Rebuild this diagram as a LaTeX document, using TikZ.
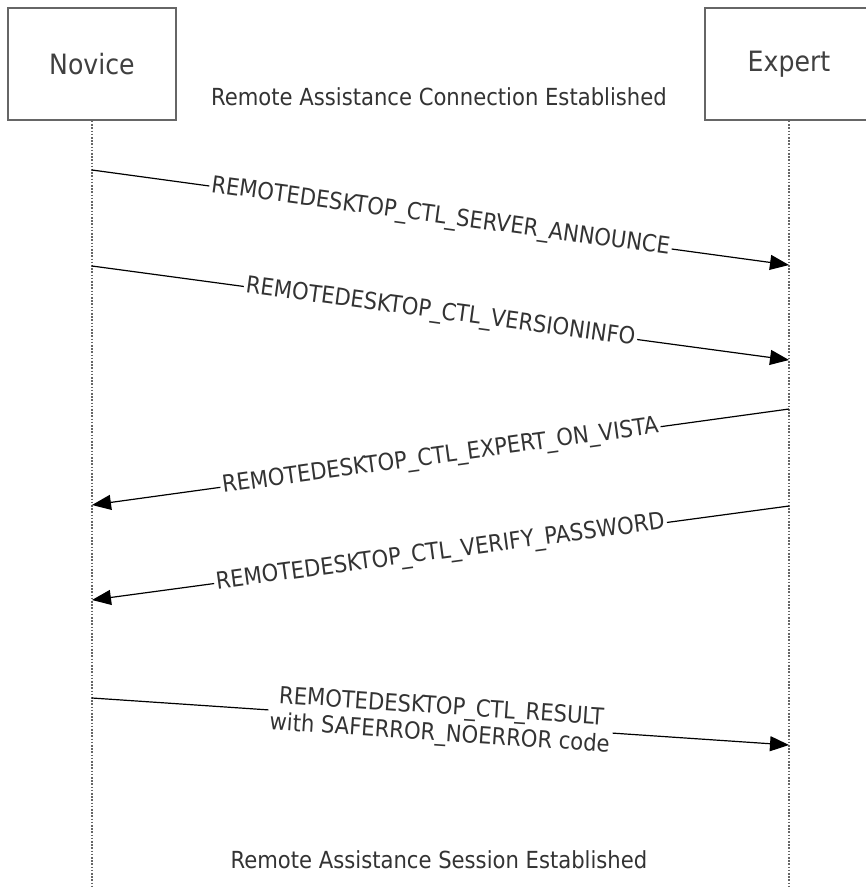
\documentclass[tikz,border=0pt]{standalone}
\usepackage{fontspec}
\setmainfont{DejaVu Sans Condensed}
\usetikzlibrary{arrows.meta}
\begin{document}
\begin{tikzpicture}[x=1pt,y=-1pt,
 actor/.style={draw=black!60, line width=1.8pt, minimum width=168pt, minimum height=112pt, font=\fontsize{28}{32}\selectfont, text=black!75},
 life/.style={draw=black!60, line width=1.6pt, dash pattern=on 1.6pt off 1.6pt},
 msg/.style={draw=black, line width=1.2pt, -{Triangle[length=19pt,width=15pt]}},
 lbl/.style={fill=white, font=\fontsize{23.5}{27}\selectfont, text=black!80, inner sep=2pt, sloped, align=center},
 note/.style={font=\fontsize{23.5}{28}\selectfont, text=black!80}]
\useasboundingbox (0,0) rectangle (866,888);
\node[actor] (nov) at (92,64) {Novice};
\node[actor] (exp) at (789,64) {Expert};
\coordinate (novend) at (92,888);
\coordinate (expend) at (789,888);
\draw[life] (nov.south) -- (novend);
\draw[life] (exp.south) -- (expend);
\node[note] (top) at (439,97) {Remote Assistance Connection Established};
\node[note] (bot) at (439,860) {Remote Assistance Session Established};
\coordinate (n1) at (92,170); \coordinate (e1) at (789,265);
\coordinate (n2) at (92,266); \coordinate (e2) at (789,360);
\coordinate (e3) at (789,409); \coordinate (n3) at (92,505);
\coordinate (e4) at (789,506); \coordinate (n4) at (92,600);
\coordinate (n5) at (92,698); \coordinate (e5) at (789,745);
\draw[msg] (n1) -- node[lbl] (l1) {REMOTEDESKTOP\_CTL\_SERVER\_ANNOUNCE} (e1);
\draw[msg] (n2) -- node[lbl] (l2) {REMOTEDESKTOP\_CTL\_VERSIONINFO} (e2);
\draw[msg] (e3) -- node[lbl] (l3) {REMOTEDESKTOP\_CTL\_EXPERT\_ON\_VISTA} (n3);
\draw[msg] (e4) -- node[lbl] (l4) {REMOTEDESKTOP\_CTL\_VERIFY\_PASSWORD} (n4);
\draw[msg] (n5) -- node[lbl] (l5) {REMOTEDESKTOP\_CTL\_RESULT\\with SAFERROR\_NOERROR code} (e5);
\end{tikzpicture}
\end{document}
